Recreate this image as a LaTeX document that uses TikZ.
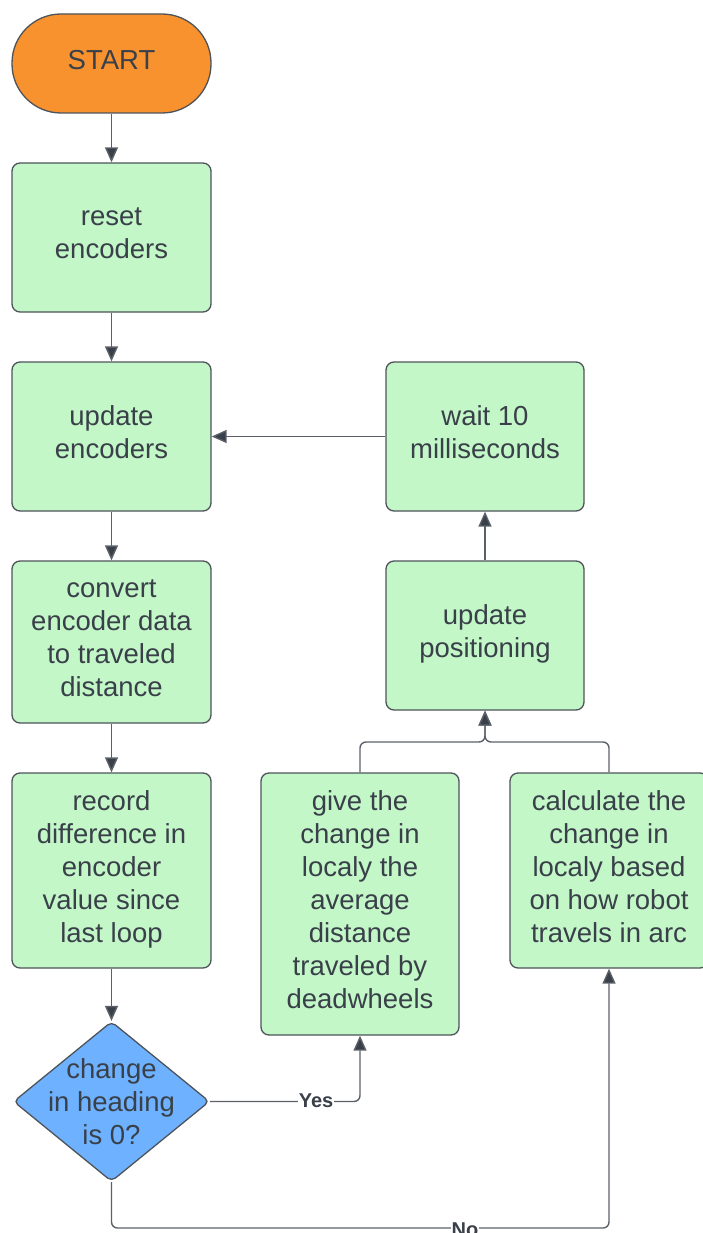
\documentclass[tikz,border=0pt]{standalone}
\usepackage{fontspec}
\setmainfont{Liberation Sans}
\usetikzlibrary{arrows.meta,shapes.geometric}
\definecolor{txt}{HTML}{394049}
\definecolor{edge}{HTML}{5C6169}
\definecolor{bord}{HTML}{4E535A}
\definecolor{orangef}{HTML}{F7922F}
\definecolor{greenf}{HTML}{C3F7C8}
\definecolor{bluef}{HTML}{6DB1FF}
\tikzset{
  box/.style={draw=bord, line width=1.3pt, fill=greenf, rounded corners=8pt, inner sep=0pt,
    minimum width=199pt, text=txt, align=center, font=\fontsize{27.5}{33}\selectfont,
    execute at end node={\rule[-8pt]{0pt}{8pt}}},
  startbox/.style={box, fill=orangef, rounded corners=49pt, minimum height=99pt},
  decbox/.style={draw=bord, line width=1.3pt, fill=bluef, shape=diamond, rounded corners=5pt,
    minimum width=196pt, minimum height=160pt, inner sep=0pt},
  dectxt/.style={text=txt, align=center, font=\fontsize{27.5}{33}\selectfont},
  conn/.style={draw=edge, line width=1.4pt, rounded corners=6pt,
    -{Triangle[length=15pt,width=13pt,fill=txt]}},
  lbl/.style={fill=white, inner sep=1pt, text=txt, font=\fontsize{20}{24}\bfseries\selectfont}
}
\begin{document}
\begin{tikzpicture}[x=1pt,y=-1pt]
\useasboundingbox (0,0) rectangle (703,1233);
\clip (0,0) rectangle (703,1233);
\node[startbox] (start) at (111.5,63.5) {START};
\node[box, minimum height=149pt] (reset) at (111.5,237.5) {reset\\encoders};
\node[box, minimum height=149pt] (upd) at (111.5,436.5) {update\\encoders};
\node[box, minimum height=162pt] (conv) at (111.5,642) {convert\\encoder data\\to traveled\\distance};
\node[box, minimum height=195pt] (rec) at (111.5,870.5) {record\\difference in\\encoder\\value since\\last loop};
\node[decbox] (dec) at (111.5,1101.5) {};
\node[dectxt] (dect) at (dec.center) {change\\in heading\\is 0?};
\node[box, minimum width=198pt, minimum height=149pt] (wait) at (485,436.5) {wait 10\\milliseconds};
\node[box, minimum width=198pt, minimum height=149pt] (pos) at (485,635.5) {update\\positioning};
\node[box, minimum width=198pt, minimum height=262pt] (give) at (360,904) {give the\\change in\\localy the\\average\\distance\\traveled by\\deadwheels};
\node[box, minimum width=198pt, minimum height=195pt] (calc) at (609,870.5) {calculate the\\change in\\localy based\\on how robot\\travels in arc};
\coordinate (m) at (485,742);
\coordinate (nb) at (609,1228);
\draw[conn] (start) -- (reset);
\draw[conn] (reset) -- (upd);
\draw[conn] (upd) -- (conv);
\draw[conn] (conv) -- (rec);
\draw[conn] (rec) -- (dec);
\draw[conn] (pos) -- (wait);
\draw[conn] (wait) -- (upd);
\draw[conn] (give.north) |- (m) -- (pos.south);
\draw[conn] (calc.north) |- (m) -- (pos.south);
\draw[conn] (dec.east) -| (give.south);
\draw[conn] (dec.south) |- (nb) -- (calc.south);
\node[lbl] (yes) at (316,1101) {Yes};
\node[lbl] (no) at (465,1230) {No};
\end{tikzpicture}
\end{document}
